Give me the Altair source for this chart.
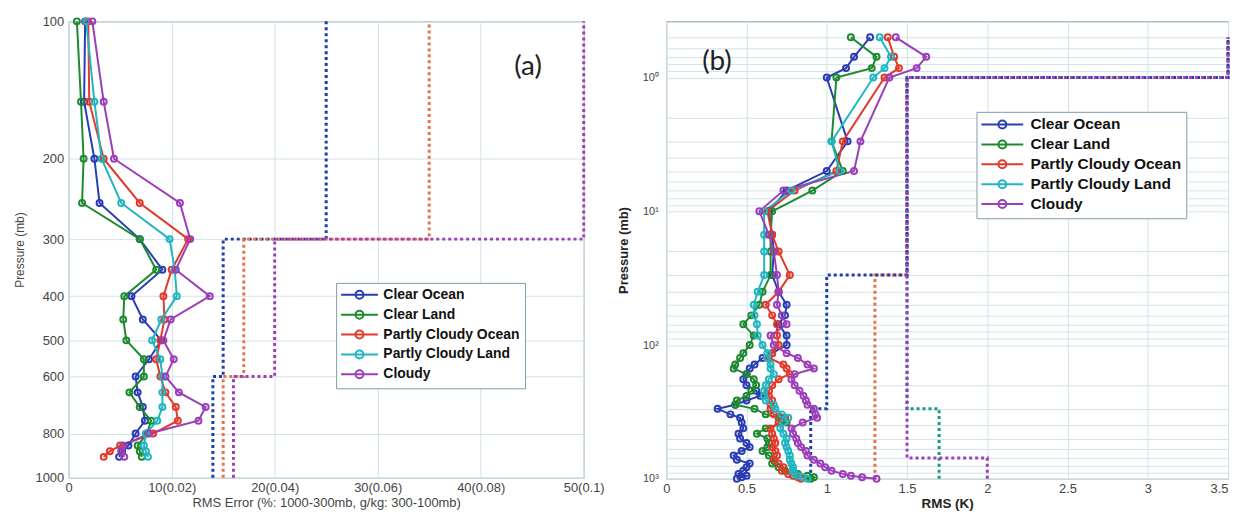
import altair as alt
import pandas as pd

SERIES = ["Clear Ocean", "Clear Land", "Partly Cloudy Ocean", "Partly Cloudy Land", "Cloudy"]
COLORS = ["#2a3db3", "#1d8a30", "#e3392b", "#20b6c1", "#9b3fb9"]

# ---------------- panel (a) ----------------
P_A = [100, 150, 200, 250, 300, 350, 400, 450, 500, 550, 600, 650, 700, 750, 800, 850, 875, 900]
A_CLEAR_OCEAN = [1.6, 1.5, 2.5, 3.0, 6.9, 9.1, 6.1, 7.2, 9.0, 7.8, 6.5, 6.7, 7.2, 7.4, 6.5, 5.8, 5.2, 4.9]
A_CLEAR_LAND = [0.8, 1.2, 1.45, 1.3, 6.9, 8.5, 5.4, 5.3, 5.6, 7.3, 7.3, 5.9, 6.9, 8.0, 7.6, 6.7, 6.9, 7.1]
A_PC_OCEAN = [1.9, 2.0, 3.4, 6.9, 11.6, 10.0, 9.2, 9.3, 8.9, 8.5, 8.9, 9.4, 10.4, 10.6, 8.2, 5.0, 4.0, 3.4]
A_PC_LAND = [1.7, 2.5, 3.2, 5.1, 9.8, 10.3, 10.5, 9.0, 8.1, 8.9, 9.1, 9.1, 9.1, 8.6, 7.5, 7.3, 7.5, 7.7]
A_CLOUDY = [2.3, 3.4, 4.4, 10.8, 11.8, 10.4, 13.7, 9.9, 9.2, 10.2, 9.4, 10.7, 13.3, 12.6, 7.8, 5.3, 5.1, 5.4]

THR_A_P = [1000, 600, 600, 300, 300, 100]
THR_A_BLUE = [14, 14, 15, 15, 25, 25]
THR_A_RED = [15, 15, 17, 17, 35, 35]
THR_A_PURPLE = [16, 16, 20, 20, 50, 50]

X_TICKS_A = [0, 10, 20, 30, 40, 50]
X_TICK_LABELS_A = ["0", "10(0.02)", "20(0.04)", "30(0.06)", "40(0.08)", "50(0.1)"]
Y_TICKS_A = [100, 200, 300, 400, 500, 600, 800, 1000]

# ---------------- panel (b) ----------------
P_B = [0.5, 0.7, 0.85, 1.0, 3, 5, 7, 10, 15, 20, 30, 40, 50, 60, 70, 85, 100, 115, 125, 140,
       150, 165, 180, 200, 220, 240, 260, 280, 300, 330, 350, 380, 420, 460, 500, 540, 580,
       620, 670, 720, 770, 820, 870, 920, 950, 975, 1000]
B_CLEAR_OCEAN = [1.27, 1.17, 1.12, 1.00, 1.13, 1.00, 0.75, 0.64, 0.66, 0.67, 0.66, 0.70, 0.75,
                 0.74, 0.70, 0.75, 0.75, 0.66, 0.60, 0.55, 0.52, 0.50, 0.48, 0.50, 0.56, 0.585,
                 0.50, 0.43, 0.32, 0.40, 0.46, 0.47, 0.48, 0.45, 0.46, 0.50, 0.52, 0.47, 0.42,
                 0.44, 0.52, 0.50, 0.48, 0.45, 0.50, 0.47, 0.44]
B_CLEAR_LAND = [1.15, 1.31, 1.28, 1.06, 1.03, 1.10, 0.91, 0.66, 0.65, 0.65, 0.65, 0.60, 0.58,
                0.53, 0.48, 0.545, 0.52, 0.48, 0.46, 0.43, 0.42, 0.50, 0.545, 0.56, 0.53, 0.50,
                0.44, 0.43, 0.55, 0.62, 0.70, 0.75, 0.62, 0.565, 0.63, 0.64, 0.63, 0.60, 0.64,
                0.67, 0.66, 0.70, 0.74, 0.82, 0.88, 0.92, 0.90]
B_PC_OCEAN = [1.38, 1.42, 1.45, 1.36, 1.10, 1.06, 0.80, 0.63, 0.66, 0.70, 0.77, 0.70, 0.62,
              0.66, 0.69, 0.69, 0.70, 0.66, 0.64, 0.73, 0.75, 0.77, 0.70, 0.66, 0.64, 0.64,
              0.66, 0.65, 0.65, 0.67, 0.74, 0.70, 0.65, 0.66, 0.67, 0.68, 0.66, 0.68, 0.69,
              0.67, 0.70, 0.73, 0.72, 0.76, 0.79, 0.82, 0.84]
B_PC_LAND = [1.33, 1.40, 1.36, 1.29, 1.03, 1.08, 0.78, 0.61, 0.61, 0.61, 0.61, 0.57, 0.545,
             0.55, 0.565, 0.57, 0.60, 0.63, 0.63, 0.65, 0.65, 0.67, 0.64, 0.62, 0.61, 0.61,
             0.62, 0.67, 0.68, 0.72, 0.76, 0.73, 0.71, 0.73, 0.75, 0.74, 0.75, 0.76, 0.77,
             0.77, 0.78, 0.79, 0.79, 0.80, 0.82, 0.85, 0.88]
B_CLOUDY = [1.43, 1.62, 1.56, 1.39, 1.21, 1.17, 0.73, 0.58, 0.64, 0.67, 0.69, 0.70, 0.69,
            0.72, 0.75, 0.65, 0.67, 0.75, 0.82, 0.88, 0.92, 0.80, 0.78, 0.80, 0.83, 0.855,
            0.87, 0.88, 0.92, 0.93, 0.94, 0.85, 0.78, 0.79, 0.81, 0.82, 0.84, 0.87, 0.88,
            0.92, 0.96, 0.99, 1.03, 1.10, 1.15, 1.22, 1.31]

THR_B_BLUE_X = [0.9, 0.9, 1.0, 1.0, 1.5, 1.5, 3.5, 3.5]
THR_B_BLUE_P = [1000, 300, 300, 30, 30, 1, 1, 0.5]
THR_B_RED_X = [1.3, 1.3, 1.5, 1.5, 3.5, 3.5]
THR_B_RED_P = [1000, 30, 30, 1, 1, 0.5]
THR_B_TEAL_X = [1.7, 1.7, 1.5, 1.5, 3.5, 3.5]
THR_B_TEAL_P = [1000, 300, 300, 1, 1, 0.5]
THR_B_PURPLE_X = [2.0, 2.0, 1.5, 1.5, 3.5, 3.5]
THR_B_PURPLE_P = [1000, 700, 700, 1, 1, 0.5]

X_TICKS_B = [0, 0.5, 1, 1.5, 2, 2.5, 3, 3.5]
Y_TICKS_B = [1, 10, 100, 1000]
Y_TICK_LABELS_B = ["10\u2070", "10\u00b9", "10\u00b2", "10\u00b3"]

# ---------------- styling ----------------
GRID = "#d3e3ea"
FRAME = "#7f9cab"
FONT = "Liberation Sans"
THR_BLUE, THR_RED, THR_TEAL, THR_PURPLE = "#1f3ea8", "#e8714e", "#17998a", "#a03fb5"


def sym_path(half, r):
    return (f"M{-half:.3f},0L{half:.3f},0M{r:.3f},0A{r:.3f},{r:.3f},0,1,1,{-r:.3f},0"
            f"A{r:.3f},{r:.3f},0,1,1,{r:.3f},0Z")


def make_long(levels, arrays):
    rows = []
    for name, vals in zip(SERIES, arrays):
        for i, (p, v) in enumerate(zip(levels, vals)):
            rows.append({"series": name, "p": p, "v": v, "i": i})
    return pd.DataFrame(rows)


def label_expr(values, labels):
    parts = [f"datum.value == {v} ? '{l}'" for v, l in zip(values, labels)]
    return " : ".join(parts) + " : ''"


def make_legend(lx, ly, line_len, font_size, row_pad):
    s = 12.0  # sqrt of symbol size (kept small so rows stay compact)
    size_px = max(s + 2, font_size)
    return alt.Legend(
        orient="none", legendX=lx, legendY=ly,
        symbolType=sym_path(line_len / s, 4.0 / (s / 2)), symbolSize=s * s,
        symbolStrokeWidth=2, symbolOffset=line_len / 2 - size_px / 2,
        labelOffset=line_len - 6 - size_px,
        labelFont=FONT, labelFontSize=font_size, labelFontWeight="bold",
        labelColor="#111", strokeColor=FRAME, fillColor="white", padding=5,
        rowPadding=row_pad, labelLimit=300,
    )


def build_panel(df, thr_list, x_enc, y_enc, legend, tag, tag_x, tag_y, w, h):
    cscale = alt.Scale(domain=SERIES, range=COLORS)
    layers = []
    for xs, ps, col in thr_list:
        tdf = pd.DataFrame({"v": xs, "p": ps, "i": list(range(len(xs)))})
        layers.append(
            alt.Chart(tdf).mark_line(color=col, strokeWidth=3, strokeDash=[3, 3])
            .encode(x=x_enc, y=y_enc, order="i:Q")
        )
    base = alt.Chart(df)
    layers.append(
        base.mark_line(strokeWidth=2).encode(
            x=x_enc, y=y_enc, order="i:Q",
            color=alt.Color("series:N", scale=cscale, title=None, legend=legend),
        )
    )
    layers.append(
        base.mark_point(filled=False, size=36, strokeWidth=2, opacity=1).encode(
            x=x_enc, y=y_enc,
            color=alt.Color("series:N", scale=cscale, legend=None),
        )
    )
    layers.append(
        alt.Chart(pd.DataFrame({"t": [tag]})).mark_text(
            font="Lato", fontSize=28, color="#222"
        ).encode(text="t:N", x=alt.value(tag_x), y=alt.value(tag_y))
    )
    return alt.layer(*layers).properties(width=w, height=h)


# ---- panel (a) ----
df_a = make_long(P_A, [A_CLEAR_OCEAN, A_CLEAR_LAND, A_PC_OCEAN, A_PC_LAND, A_CLOUDY])
xa = alt.X(
    "v:Q",
    scale=alt.Scale(domain=[0, 50], nice=False, zero=False),
    axis=alt.Axis(
        values=X_TICKS_A, labelExpr=label_expr(X_TICKS_A, X_TICK_LABELS_A),
        title="RMS Error (%: 1000-300mb, g/kg: 300-100mb)",
        titleFontWeight="normal", titleFontSize=13, titleColor="#444",
        labelFontSize=13, labelColor="#444", labelPadding=4, titlePadding=2,
        labelFlush=False, labelOverlap=False,
    ),
)
ya = alt.Y(
    "p:Q",
    scale=alt.Scale(type="log", domain=[100, 1000], reverse=True, nice=False),
    axis=alt.Axis(
        values=Y_TICKS_A, format="d", title="Pressure (mb)",
        titleFontWeight="normal", titleFontSize=12, titleColor="#444",
        labelFontSize=13, labelColor="#444", labelPadding=5, titlePadding=8,
        labelFlush=False, labelOverlap=False,
    ),
)
panel_a = build_panel(
    df_a,
    [(THR_A_BLUE, THR_A_P, THR_BLUE), (THR_A_RED, THR_A_P, THR_RED), (THR_A_PURPLE, THR_A_P, THR_PURPLE)],
    xa, ya, make_legend(269, 263, 37, 14, 2), "(a)", 462, 46, 518, 459,
)

# ---- panel (b) ----
df_b = make_long(P_B, [B_CLEAR_OCEAN, B_CLEAR_LAND, B_PC_OCEAN, B_PC_LAND, B_CLOUDY])
minor_b = [m / 10 for m in range(5, 10)] + [m * 10 ** k for k in range(0, 3) for m in range(1, 10)] + [1000]
xb = alt.X(
    "v:Q",
    scale=alt.Scale(domain=[0, 3.5], nice=False, zero=False),
    axis=alt.Axis(
        values=X_TICKS_B, format="~g", title="RMS (K)",
        titleFontWeight="bold", titleFontSize=13.5, titleColor="#222",
        labelFontSize=13, labelColor="#444", labelPadding=4, titlePadding=1,
        labelFlush=False, labelOverlap=False,
        labelAlign={"condition": {"test": "datum.value >= 3.5", "value": "right"}, "value": "center"},
    ),
)
yb = alt.Y(
    "p:Q",
    scale=alt.Scale(type="log", domain=[0.38, 1000], reverse=True, nice=False),
    axis=alt.Axis(
        values=minor_b, labelExpr=label_expr(Y_TICKS_B, Y_TICK_LABELS_B),
        title="Pressure (mb)", titleFontWeight="bold", titleFontSize=13, titleColor="#222",
        labelFontSize=11, labelColor="#444", labelPadding=8, titlePadding=12,
        labelFlush=False, labelOverlap=False,
    ),
)
panel_b = build_panel(
    df_b,
    [(THR_B_TEAL_X, THR_B_TEAL_P, THR_TEAL), (THR_B_RED_X, THR_B_RED_P, THR_RED),
     (THR_B_BLUE_X, THR_B_BLUE_P, THR_BLUE), (THR_B_PURPLE_X, THR_B_PURPLE_P, THR_PURPLE)],
    xb, yb, make_legend(312, 91, 42, 15.5, 2), "(b)", 51, 41, 565, 460,
)

chart = (
    alt.hconcat(panel_a, panel_b, spacing=83, bounds="flush")
    .resolve_scale(color="independent")
    .configure_view(stroke=FRAME, strokeWidth=1)
    .configure_axis(
        grid=True, gridColor=GRID, gridWidth=1, ticks=False, domain=False,
        labelFont=FONT, titleFont=FONT,
    )
    .properties(
        padding={"left": 5, "top": 4, "right": 0, "bottom": 0},
        background="white",
    )
)

chart.save("out.html", embed_options={"renderer": "svg", "actions": False})
